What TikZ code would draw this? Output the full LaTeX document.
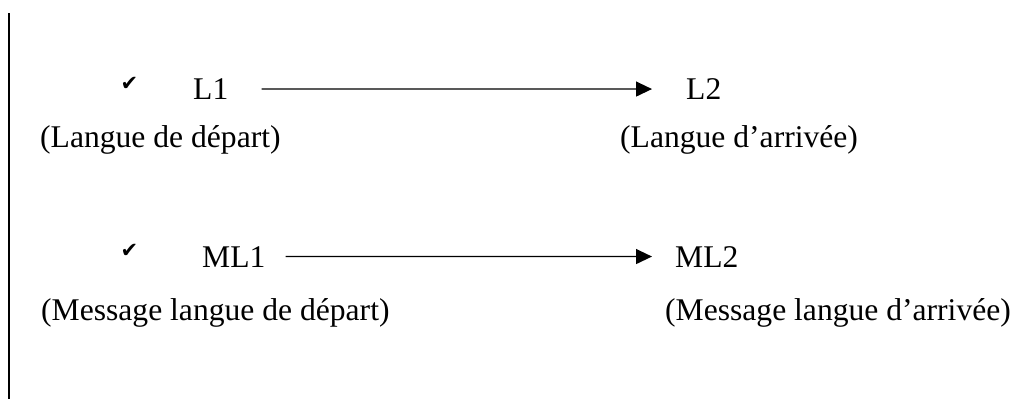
\documentclass[tikz,border=0pt]{standalone}
\usepackage{fontspec}
\setmainfont{Liberation Serif}
\newfontfamily\symfont{DejaVu Sans}
\usetikzlibrary{arrows.meta}
\tikzset{
  txt/.style={inner sep=0pt, anchor=base west, font=\fontsize{31.6}{36}\selectfont},
  chk/.style={inner sep=0pt, font=\symfont\fontsize{21}{24}\selectfont},
  arr/.style={line width=1.3pt, -{Triangle[length=16pt,width=15pt]}},
}
\begin{document}
\begin{tikzpicture}[x=1pt,y=1pt]
\useasboundingbox (0,0) rectangle (1020,-399);
\fill[white] (0,0) rectangle (1020,-399);
\coordinate (vtop) at (9,-13);
\coordinate (vbot) at (9,-399);
\draw[line width=1.6pt] (vtop) -- (vbot);
% row 1
\node[chk] (c1) at (129.5,-84) {✔};
\node[txt] (L1) at (193,-99.5) {L1};
\node[txt] (L2) at (686,-99.5) {L2};
\draw[arr, shorten <=33pt, shorten >=34pt] (L1.east) -- (L2.west);
\node[txt] (Ld) at (40,-147) {(Langue de départ)};
\node[txt] (La) at (620,-147) {(Langue d’arrivée)};
% row 2
\node[chk] (c2) at (129.5,-251) {✔};
\node[txt] (ML1) at (202,-267) {ML1};
\node[txt] (ML2) at (675,-267) {ML2};
\draw[arr, shorten <=20pt, shorten >=23pt] (ML1.east) -- (ML2.west);
\node[txt] (Md) at (41,-320) {(Message langue de départ)};
\node[txt] (Ma) at (665,-320) {(Message langue d’arrivée)};
\end{tikzpicture}
\end{document}
